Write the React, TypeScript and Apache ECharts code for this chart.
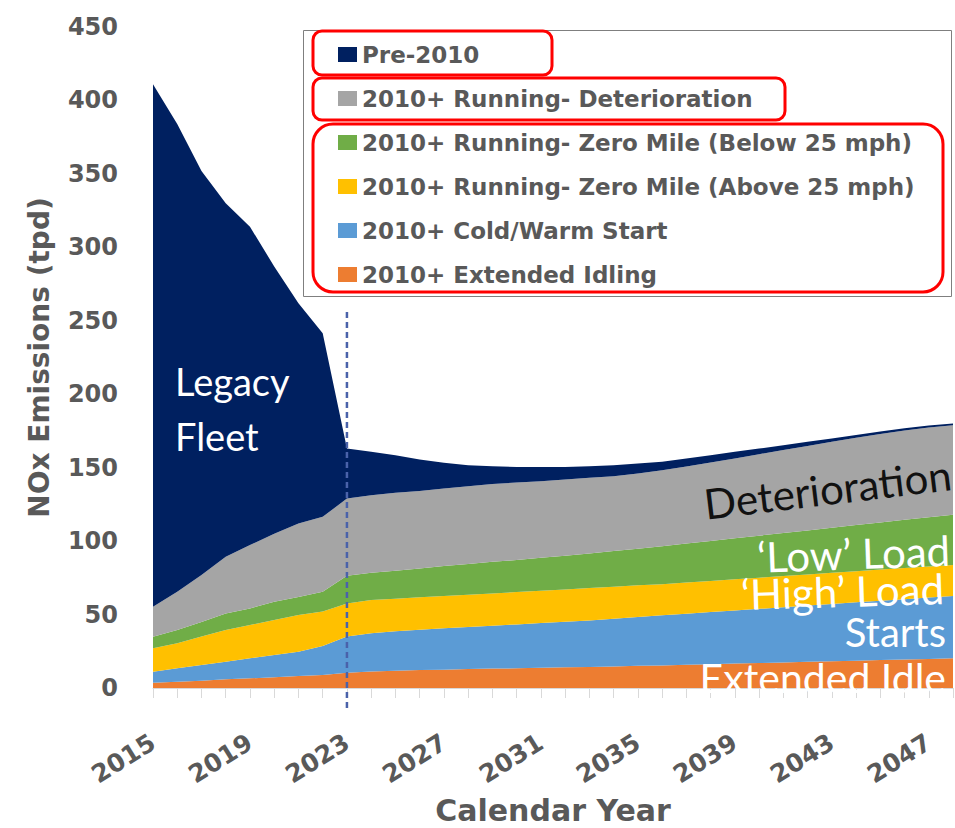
import React, { useEffect, useRef } from "react";
import * as echarts from "echarts";

const years = [
  "2015", "2016", "2017", "2018", "2019", "2020", "2021", "2022", "2023", "2024",
  "2025", "2026", "2027", "2028", "2029", "2030", "2031", "2032", "2033", "2034",
  "2035", "2036", "2037", "2038", "2039", "2040", "2041", "2042", "2043", "2044",
  "2045", "2046", "2047", "2048",
];

const extendedIdling = [
  3.6, 4.3, 5.0, 5.9, 6.6, 7.3, 8.2, 8.8, 10.4, 11.3,
  11.8, 12.2, 12.5, 12.9, 13.2, 13.4, 13.8, 14.1, 14.3, 14.7,
  15.2, 15.4, 15.8, 16.2, 16.6, 17.0, 17.4, 17.8, 18.2, 18.6,
  19.0, 19.4, 19.8, 20.2,
];
const coldWarmStart = [
  7.5, 9.1, 10.6, 12.0, 13.6, 15.1, 16.5, 19.8, 24.6, 25.9,
  26.8, 27.5, 28.1, 28.6, 29.2, 29.9, 30.4, 31.0, 31.7, 32.4,
  33.1, 34.1, 34.8, 35.5, 36.2, 36.9, 37.6, 38.3, 39.0, 39.7,
  40.4, 41.1, 41.8, 42.5,
];
const zeroMileAbove25 = [
  15.9, 17.0, 19.4, 21.6, 22.7, 23.9, 25.0, 23.4, 22.5, 22.7,
  22.1, 22.0, 22.0, 22.0, 22.0, 22.0, 22.0, 22.0, 22.0, 21.8,
  21.6, 21.2, 21.2, 21.2, 21.2, 21.2, 21.2, 21.2, 21.2, 21.2,
  21.2, 21.2, 21.2, 21.1,
];
const zeroMileBelow25 = [
  7.9, 9.1, 10.0, 11.3, 11.3, 12.4, 12.3, 13.5, 19.0, 18.6,
  19.1, 19.7, 20.4, 20.9, 21.5, 21.8, 22.4, 22.9, 23.6, 24.3,
  24.9, 25.8, 26.5, 27.2, 27.9, 28.6, 29.3, 30.0, 30.7, 31.4,
  32.1, 32.8, 33.5, 34.2,
];
const deterioration = [
  20.4, 26.0, 31.9, 38.5, 43.1, 46.3, 50.0, 51.0, 52.5, 52.8,
  53.1, 52.8, 52.8, 53.0, 52.9, 52.8, 52.2, 52.0, 51.5, 51.0,
  51.2, 51.8, 52.5, 53.4, 54.4, 55.5, 56.5, 57.5, 58.5, 59.4,
  60.2, 60.8, 61.0, 60.9,
];
const pre2010 = [
  355.7, 318.5, 275.1, 240.7, 216.7, 182.0, 150.0, 125.0, 34.0, 29.5,
  25.6, 21.4, 17.5, 14.3, 12.2, 10.6, 9.7, 8.5, 7.9, 7.5,
  6.9, 5.7, 5.4, 5.0, 4.5, 3.8, 3.3, 2.8, 2.3, 2.0,
  1.8, 1.6, 1.4, 1.2,
];

const seriesNames = [
  "Pre-2010",
  "2010+ Running- Deterioration",
  "2010+ Running- Zero Mile (Below 25 mph)",
  "2010+ Running- Zero Mile (Above 25 mph)",
  "2010+ Cold/Warm Start",
  "2010+ Extended Idling",
];

const Y_MIN = 0;
const Y_MAX = 450;
const Y_INTERVAL = 50;
const DIVIDER_YEAR = "2023";
const DIVIDER_TOP_VALUE = 256;

const AXIS_FONT = "DejaVu Sans";
const NOTE_FONT = "Lato";
const GREY = "#595959";

export default function App() {
  const ref = useRef<HTMLDivElement>(null);

  useEffect(() => {
    if (!ref.current) return;
    const chart = echarts.init(ref.current, null, { renderer: "svg" });

    const mk = (name: string, data: number[], color: string) => ({
      name,
      type: "line",
      stack: "total",
      data,
      symbol: "none",
      silent: true,
      lineStyle: { width: 0, color },
      itemStyle: { color },
      areaStyle: { color, opacity: 1 },
      emphasis: { disabled: true },
    });

    chart.setOption({
      animation: false,
      grid: {
        left: 153,
        right: 2,
        top: 27,
        bottom: 140,
        containLabel: false,
        outerBoundsMode: "none",
      },
      legend: {
        orient: "vertical",
        left: 338,
        top: 43,
        padding: 0,
        itemWidth: 19,
        itemHeight: 15,
        itemGap: 21,
        icon: "rect",
        selectedMode: false,
        z: 10,
        data: seriesNames,
        textStyle: {
          fontFamily: AXIS_FONT,
          fontWeight: "bold",
          fontSize: 23,
          color: GREY,
          lineHeight: 16,
        },
      },
      xAxis: {
        type: "category",
        data: years,
        boundaryGap: false,
        axisLine: { show: true, lineStyle: { color: "#d9d9d9", width: 1 } },
        axisTick: { show: true, interval: 0, length: 10, lineStyle: { color: "#d9d9d9" } },
        axisLabel: {
          interval: 3,
          rotate: 32,
          margin: 52,
          fontFamily: AXIS_FONT,
          fontWeight: "bold",
          fontSize: 25,
          color: GREY,
        },
        splitLine: { show: false },
        name: "Calendar Year",
        nameLocation: "middle",
        nameGap: 107,
        nameTextStyle: {
          fontFamily: AXIS_FONT,
          fontWeight: "bold",
          fontSize: 30,
          color: GREY,
        },
      },
      yAxis: {
        type: "value",
        min: Y_MIN,
        max: Y_MAX,
        interval: Y_INTERVAL,
        axisLine: { show: false },
        axisTick: { show: false },
        splitLine: { show: false },
        axisLabel: {
          margin: 35,
          fontFamily: AXIS_FONT,
          fontWeight: "bold",
          fontSize: 24,
          color: GREY,
        },
        name: "NOx Emissions (tpd)",
        nameLocation: "middle",
        nameGap: 100,
        nameTextStyle: {
          fontFamily: AXIS_FONT,
          fontWeight: "bold",
          fontSize: 28,
          color: GREY,
        },
      },
      series: [
        mk(seriesNames[5], extendedIdling, "#ed7d31"),
        mk(seriesNames[4], coldWarmStart, "#5b9bd5"),
        mk(seriesNames[3], zeroMileAbove25, "#ffc000"),
        mk(seriesNames[2], zeroMileBelow25, "#70ad47"),
        mk(seriesNames[1], deterioration, "#a5a5a5"),
        mk(seriesNames[0], pre2010, "#002060"),
      ],
    });

    const top = chart.convertToPixel({ gridIndex: 0 }, [DIVIDER_YEAR, DIVIDER_TOP_VALUE]) as number[];
    const base = chart.convertToPixel({ gridIndex: 0 }, [DIVIDER_YEAR, Y_MIN]) as number[];

    const note = (
      text: string,
      x: number,
      y: number,
      size: number,
      fill: string,
      align: string,
      rotation = 0
    ) => ({
      type: "text",
      x,
      y,
      rotation,
      z: 20,
      silent: true,
      style: {
        text,
        fill,
        fontFamily: NOTE_FONT,
        fontSize: size,
        align,
        verticalAlign: "middle",
      },
    });

    chart.setOption({
      graphic: [
        {
          type: "line",
          z: 15,
          silent: true,
          shape: { x1: top[0], y1: top[1], x2: base[0], y2: base[1] + 24 },
          style: { stroke: "#4a62aa", lineWidth: 2.5, lineDash: [6, 4] },
        },
        {
          type: "rect",
          z: 5,
          silent: true,
          shape: { x: 303.5, y: 30.5, width: 648, height: 266 },
          style: { fill: "rgba(255,255,255,0)", stroke: "#7f7f7f", lineWidth: 1 },
        },
        {
          type: "rect",
          z: 6,
          silent: true,
          shape: { x: 313, y: 31, width: 239, height: 44, r: 9 },
          style: { fill: "rgba(255,255,255,0)", stroke: "#ff0000", lineWidth: 3 },
        },
        {
          type: "rect",
          z: 6,
          silent: true,
          shape: { x: 313, y: 78, width: 472, height: 42, r: 9 },
          style: { fill: "rgba(255,255,255,0)", stroke: "#ff0000", lineWidth: 3 },
        },
        {
          type: "rect",
          z: 6,
          silent: true,
          shape: { x: 313, y: 124, width: 630, height: 168, r: 20 },
          style: { fill: "rgba(255,255,255,0)", stroke: "#ff0000", lineWidth: 3 },
        },
        note("Legacy", 175, 381, 38, "#ffffff", "left"),
        note("Fleet", 175, 436, 38, "#ffffff", "left"),
        note("Deterioration", 951, 474, 42, "#111111", "right", 0.12),
        note("\u2018Low\u2019 Load", 950, 550, 42, "#ffffff", "right", 0.035),
        note("\u2018High\u2019 Load", 944, 588, 42, "#ffffff", "right", 0.03),
        note("Starts", 946, 632, 40, "#ffffff", "right"),
        note("Extended Idle", 946, 677, 41, "#ffffff", "right"),
      ],
    });

    return () => chart.dispose();
  }, []);

  return (
    <div
      ref={ref}
      style={{ position: "fixed", left: 0, top: 0, width: 955, height: 828, background: "#ffffff" }}
    />
  );
}
